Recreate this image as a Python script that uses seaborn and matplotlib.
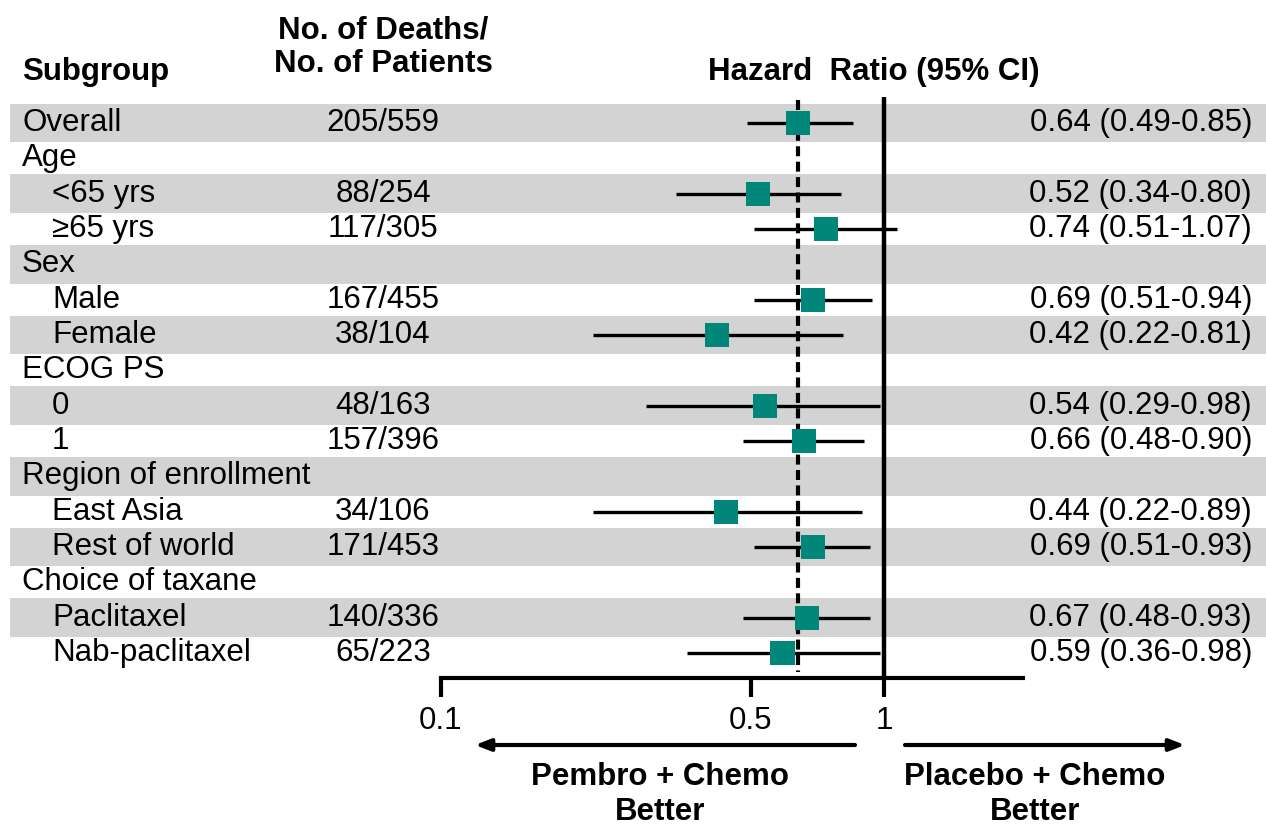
import matplotlib
matplotlib.use("Agg")
import matplotlib.pyplot as plt
import seaborn as sns
import pandas as pd
import numpy as np

# ---- data ----
labels = ["Overall", "Age", "<65 yrs", "≥65 yrs", "Sex", "Male", "Female", "ECOG PS",
          "0", "1", "Region of enrollment", "East Asia", "Rest of world",
          "Choice of taxane", "Paclitaxel", "Nab-paclitaxel"]
indent = [0, 0, 1, 1, 0, 1, 1, 0, 1, 1, 0, 1, 1, 0, 1, 1]
deaths = ["205/559", "", "88/254", "117/305", "", "167/455", "38/104", "",
          "48/163", "157/396", "", "34/106", "171/453", "", "140/336", "65/223"]
hr = [0.64, None, 0.52, 0.74, None, 0.69, 0.42, None, 0.54, 0.66, None, 0.44, 0.69, None, 0.67, 0.59]
lo = [0.49, None, 0.34, 0.51, None, 0.51, 0.22, None, 0.29, 0.48, None, 0.22, 0.51, None, 0.48, 0.36]
hi = [0.85, None, 0.80, 1.07, None, 0.94, 0.81, None, 0.98, 0.90, None, 0.89, 0.93, None, 0.93, 0.98]
hr_text = ["0.64 (0.49-0.85)", "", "0.52 (0.34-0.80)", "0.74 (0.51-1.07)", "", "0.69 (0.51-0.94)",
           "0.42 (0.22-0.81)", "", "0.54 (0.29-0.98)", "0.66 (0.48-0.90)", "", "0.44 (0.22-0.89)",
           "0.69 (0.51-0.93)", "", "0.67 (0.48-0.93)", "0.59 (0.36-0.98)"]
overall_hr = 0.64
xticks = [0.1, 0.5, 1]
xtick_labels = ["0.1", "0.5", "1"]

sns.set_style("white")
plt.rcParams["font.family"] = ["Liberation Sans", "DejaVu Sans"]
plt.rcParams["text.color"] = "black"
plt.rcParams["xtick.color"] = "black"
plt.rcParams["axes.edgecolor"] = "black"

W, H = 1266, 826
fig = plt.figure(figsize=(W / 100, H / 100), dpi=100)
ax = fig.add_axes([0, (H - 678) / H, 1, 678 / H])

# log x scale: 0.1 -> 441px, 1 -> 884px
ppd = 443.0
xmin = 10 ** (-1 - 441 / ppd)
xmax = 10 ** (-1 + (W - 441) / ppd)
ax.set_xscale("log")
ax.set_xlim(xmin, xmax)
rowpx = 35.33
ax.set_ylim(15 + (678 - 653) / rowpx, -123 / rowpx)

n = len(labels)
rows = np.arange(n)
FS = 22.5

# gray bands
for i in range(0, n, 2):
    ax.axhspan(i - 0.55, i + 0.55, xmin=10 / W, xmax=1, color="#D3D3D3", lw=0, zorder=0)

yt = ax.get_yaxis_transform()  # x axes-fraction, y data

# headers
ax.text(22 / W, -1.44, "Subgroup", transform=yt, fontsize=FS, fontweight="bold", va="center", ha="left")
ax.text(383 / W, -2.63, "No. of Deaths/", transform=yt, fontsize=FS, fontweight="bold", va="center", ha="center")
ax.text(383 / W, -1.67, "No. of Patients", transform=yt, fontsize=FS, fontweight="bold", va="center", ha="center")
ax.text(874 / W, -1.44, "Hazard  Ratio (95% CI)", transform=yt, fontsize=FS, fontweight="bold", va="center", ha="center")

for i in rows:
    x0 = 52 if indent[i] else 22
    ax.text(x0 / W, i, labels[i], transform=yt, fontsize=FS, va="center", ha="left")
    if deaths[i]:
        ax.text(383 / W, i, deaths[i], transform=yt, fontsize=FS, va="center", ha="center")
    if hr_text[i]:
        ax.text(1252 / W, i, hr_text[i], transform=yt, fontsize=FS, va="center", ha="right")

# reference lines
ax.vlines(1, -0.74, ax.get_ylim()[0], color="black", lw=3.2, zorder=2)
ax.vlines(overall_hr, -0.65, 15.55, color="black", lw=3, linestyles=(0, (2.4, 1.3)), zorder=2)

# CIs + markers
df = pd.DataFrame({"row": rows, "hr": hr, "lo": lo, "hi": hi}).dropna()
ax.hlines(df["row"], df["lo"], df["hi"], color="black", lw=2.4, zorder=3)
sns.scatterplot(data=df, x="hr", y="row", marker="s", s=300, color="#00877A",
                edgecolor="none", linewidth=0, ax=ax, zorder=4, legend=False)
ax.set_ylim(15 + (678 - 653) / rowpx, -123 / rowpx)
ax.set_xlim(xmin, xmax)

# axis styling
for s in ["top", "right", "left"]:
    ax.spines[s].set_visible(False)
ax.spines["bottom"].set_linewidth(3)
ax.spines["bottom"].set_color("black")
ax.spines["bottom"].set_bounds(0.1, 2.06)
ax.set_xticks(xticks)
ax.set_xticklabels(xtick_labels)
ax.xaxis.set_minor_locator(matplotlib.ticker.NullLocator())
ax.tick_params(axis="x", direction="out", length=14, width=3, labelsize=FS, pad=6, bottom=True,
               color="black", labelcolor="black")
ax.set_yticks([])
ax.set_xlabel("")
ax.set_ylabel("")

# arrows and direction labels
ya = 15 + (745 - 653) / rowpx
ax.annotate("", xy=(475 / W, ya), xytext=(855 / W, ya), xycoords=yt, textcoords=yt,
            arrowprops=dict(arrowstyle="-|>,head_length=0.9,head_width=0.35", lw=3, color="black",
                            shrinkA=0, shrinkB=0), annotation_clip=False)
ax.annotate("", xy=(1185 / W, ya), xytext=(905 / W, ya), xycoords=yt, textcoords=yt,
            arrowprops=dict(arrowstyle="-|>,head_length=0.9,head_width=0.35", lw=3, color="black",
                            shrinkA=0, shrinkB=0), annotation_clip=False)
y1 = 15 + (777 - 653) / rowpx
y2 = 15 + (812 - 653) / rowpx
ax.text(660 / W, y1, "Pembro + Chemo", transform=yt, fontsize=FS, fontweight="bold", ha="center", va="center", clip_on=False)
ax.text(660 / W, y2, "Better", transform=yt, fontsize=FS, fontweight="bold", ha="center", va="center", clip_on=False)
ax.text(1035 / W, y1, "Placebo + Chemo", transform=yt, fontsize=FS, fontweight="bold", ha="center", va="center", clip_on=False)
ax.text(1035 / W, y2, "Better", transform=yt, fontsize=FS, fontweight="bold", ha="center", va="center", clip_on=False)

fig.savefig("out.png", dpi=100, facecolor="white")
